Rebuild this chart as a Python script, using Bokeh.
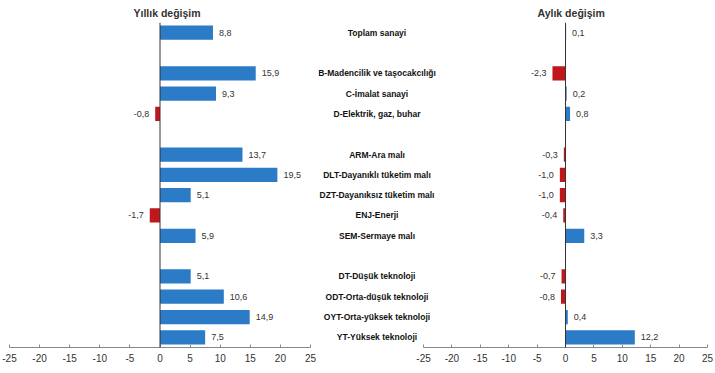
from bokeh.plotting import figure
from bokeh.models import ColumnDataSource, FactorRange, Range1d, FixedTicker, Span
from bokeh.layouts import row
from bokeh.embed import file_html
from bokeh.resources import INLINE
from bokeh.core.properties import value

categories = ["Toplam sanayi", "B-Madencilik ve taşocakcılığı", "C-İmalat sanayi",
              "D-Elektrik, gaz, buhar", "ARM-Ara malı", "DLT-Dayanıklı tüketim malı",
              "DZT-Dayanıksız tüketim malı", "ENJ-Enerji", "SEM-Sermaye malı",
              "DT-Düşük teknoloji", "ODT-Orta-düşük teknoloji", "OYT-Orta-yüksek teknoloji",
              "YT-Yüksek teknoloji"]
group_sizes = [1, 3, 5, 4]
annual = [8.8, 15.9, 9.3, -0.8, 13.7, 19.5, 5.1, -1.7, 5.9, 5.1, 10.6, 14.9, 7.5]
monthly = [0.1, -2.3, 0.2, 0.8, -0.3, -1.0, -1.0, -0.4, 3.3, -0.7, -0.8, 0.4, 12.2]
ticks = [-25, -20, -15, -10, -5, 0, 5, 10, 15, 20, 25]
tick_labels = ["-25", "-20", "-15", "-10", "-5", "0", "5", "10", "15", "20", "25"]
titles = ["Yıllık değişim", "Aylık değişim"]

BLUE = "#2B7BC6"
RED = "#C0171C"
FONT = "Liberation Sans"

# factor list with spacer rows between groups
factors = []
i = 0
for g, n in enumerate(group_sizes):
    if g > 0:
        factors.append(" " * g)
    factors.extend(categories[i:i + n])
    i += n
n_rows = len(factors)


def fmt(v):
    return ("%.1f" % v).replace(".", ",")


def make_panel(vals, x_start, width, b_left, b_right, title, title_offset, label_x=None):
    p = figure(width=width, height=371, output_backend="svg", toolbar_location=None,
               x_range=Range1d(x_start, 25), y_range=FactorRange(factors=list(reversed(factors))),
               min_border_left=b_left, min_border_right=b_right,
               min_border_top=22, min_border_bottom=24, title=title)
    p.title.align = "left"
    p.title.offset = title_offset
    p.title.standoff = 7
    p.title.text_font = FONT
    p.title.text_font_size = "10.5px"
    p.title.text_font_style = "bold"
    p.title.text_color = "#333333"

    p.outline_line_color = None
    p.xgrid.grid_line_color = None
    p.ygrid.grid_line_color = None
    p.yaxis.visible = False
    p.background_fill_color = "white"
    p.border_fill_color = "white"

    colors = [BLUE if v >= 0 else RED for v in vals]
    src = ColumnDataSource(dict(y=categories, v=vals, c=colors))
    p.hbar(y="y", left=0, right="v", height=0.7, color="c", line_color=None, source=src)

    pos = ColumnDataSource(dict(y=[c for c, v in zip(categories, vals) if v >= 0],
                                v=[v for v in vals if v >= 0],
                                t=[fmt(v) for v in vals if v >= 0]))
    neg = ColumnDataSource(dict(y=[c for c, v in zip(categories, vals) if v < 0],
                                v=[v for v in vals if v < 0],
                                t=[fmt(v) for v in vals if v < 0]))
    common = dict(text_font=value(FONT), text_font_size="9px", text_color="#333333",
                  text_baseline="middle")
    p.text(x="v", y="y", text="t", source=pos, x_offset=6, text_align="left", **common)
    p.text(x="v", y="y", text="t", source=neg, x_offset=-6, text_align="right", **common)

    p.add_layout(Span(location=0, dimension="height", line_color="#333333", line_width=1))

    ax = p.xaxis[0]
    ax.ticker = FixedTicker(ticks=ticks)
    ax.major_label_overrides = {t: l for t, l in zip(ticks, tick_labels)}
    ax.bounds = (-25, 25)
    ax.axis_line_color = "#888888"
    ax.major_tick_line_color = "#888888"
    ax.major_tick_in = 3
    ax.major_tick_out = 0
    ax.minor_tick_line_color = None
    ax.major_label_text_font = FONT
    ax.major_label_text_font_size = "10px"
    ax.major_label_text_color = "#333333"
    ax.major_label_standoff = 6

    if label_x is not None:
        lab = ColumnDataSource(dict(y=categories))
        p.text(x=label_x, y="y", text="y", source=lab, text_align="center",
               text_baseline="middle", text_font=value(FONT), text_font_size="8.5px",
               text_font_style="bold", text_color="#111111")
    return p


p1 = make_panel(annual, -25, 316, 9, 6, titles[0], 124)
p2 = make_panel(monthly, -43.5, 399, 2, 8, titles[1], 219, label_x=-33.2)

layout = row(p1, p2)

open("out.html", "w").write(file_html(layout, INLINE))
